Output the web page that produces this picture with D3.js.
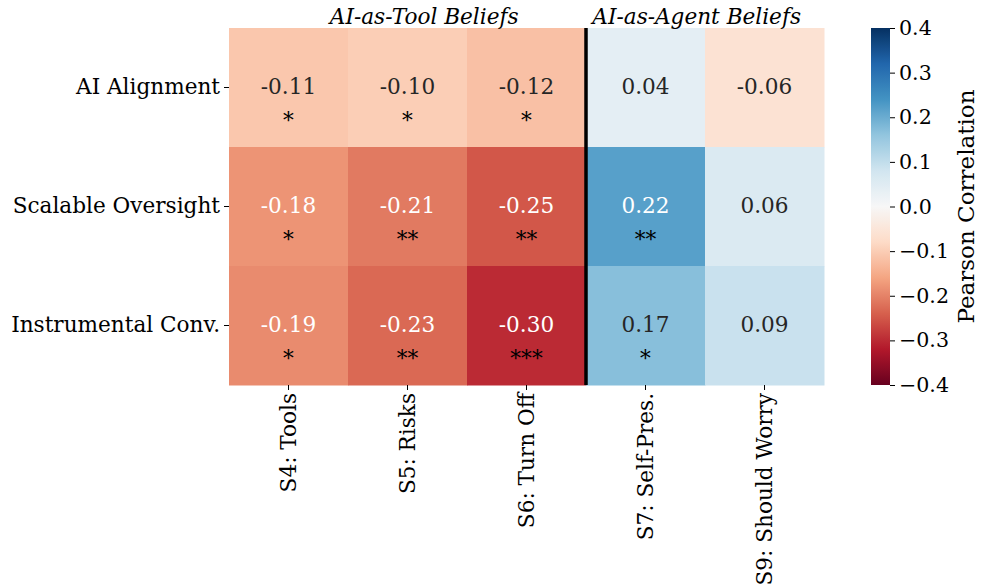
<!DOCTYPE html>
<html>
<head>
<meta charset="utf-8">
<script src="https://cdn.jsdelivr.net/npm/d3@7/dist/d3.min.js"></script>
<style>
  body { margin: 0; background: #fff; }
  svg text { font-family: "DejaVu Serif", serif; }
</style>
</head>
<body>
<svg id="chart" width="981" height="587"></svg>
<script>
var rows = ["AI Alignment", "Scalable Oversight", "Instrumental Conv."];
var cols = ["S4: Tools", "S5: Risks", "S6: Turn Off", "S7: Self-Pres.", "S9: Should Worry"];
var values = [
  [-0.11, -0.10, -0.12, 0.04, -0.06],
  [-0.18, -0.21, -0.25, 0.22, 0.06],
  [-0.19, -0.23, -0.30, 0.17, 0.09]
];
var stars = [
  ["*", "*", "*", "", ""],
  ["*", "**", "**", "**", ""],
  ["*", "**", "***", "*", ""]
];
var groups = [
  { name: "AI-as-Tool Beliefs", at: 1.64 },
  { name: "AI-as-Agent Beliefs", at: 3.93 }
];
var cbTicks = [-0.4, -0.3, -0.2, -0.1, 0.0, 0.1, 0.2, 0.3, 0.4];

// matplotlib RdBu stops
var rdbu = ["#67001f", "#b2182b", "#d6604d", "#f4a582", "#fddbc7", "#f7f7f7",
            "#d1e5f0", "#92c5de", "#4393c3", "#2166ac", "#053061"];
var color = d3.scaleLinear()
  .domain(d3.range(11).map(function(i) { return -0.4 + i * 0.08; }))
  .range(rdbu)
  .interpolate(d3.interpolateRgb)
  .clamp(true);

function lum(c) {
  c = d3.rgb(c);
  var f = function(v) { v /= 255; return v <= 0.03928 ? v / 12.92 : Math.pow((v + 0.055) / 1.055, 2.4); };
  return 0.2126 * f(c.r) + 0.7152 * f(c.g) + 0.0722 * f(c.b);
}

(function() {
  var svg = d3.select("#chart");
  var fs = "21.6px", fsTick = "20.6px", fsLabel = "23px";
  var mLeft = 229, mTop = 28, mRight = 824, mBottom = 385;

  var x = d3.scaleBand().domain(cols).range([mLeft, mRight]);
  var y = d3.scaleBand().domain(rows).range([mTop, mBottom]);
  var xl = d3.scaleLinear().domain([0, cols.length]).range([mLeft, mRight]);

  var cells = [];
  values.forEach(function(r, i) {
    r.forEach(function(v, j) {
      cells.push({ row: rows[i], col: cols[j], v: v, s: stars[i][j] });
    });
  });

  var g = svg.append("g");
  g.selectAll("rect")
    .data(cells)
    .enter()
    .append("rect")
    .attr("x", function(d) { return x(d.col); })
    .attr("y", function(d) { return y(d.row); })
    .attr("width", x.bandwidth() + 0.5)
    .attr("height", y.bandwidth() + 0.5)
    .attr("fill", function(d) { return color(d.v); });

  g.selectAll("text.val")
    .data(cells)
    .enter()
    .append("text")
    .attr("class", "val")
    .attr("x", function(d) { return x(d.col) + x.bandwidth() / 2; })
    .attr("y", function(d) { return y(d.row) + y.bandwidth() / 2 + 6.5; })
    .attr("text-anchor", "middle")
    .style("font-size", fs)
    .attr("fill", function(d) { return lum(color(d.v)) > 0.408 ? "#262626" : "#ffffff"; })
    .text(function(d) { return d.v.toFixed(2); });

  g.selectAll("text.star")
    .data(cells)
    .enter()
    .append("text")
    .attr("class", "star")
    .attr("x", function(d) { return x(d.col) + x.bandwidth() / 2; })
    .attr("y", function(d) { return y(d.row) + y.bandwidth() / 2 + 40; })
    .attr("text-anchor", "middle")
    .style("font-size", fs)
    .attr("fill", "#000")
    .text(function(d) { return d.s; });

  // separator between tool and agent groups
  svg.append("line")
    .attr("x1", xl(3)).attr("x2", xl(3))
    .attr("y1", mTop).attr("y2", mBottom)
    .attr("stroke", "#000")
    .attr("stroke-width", 3.5);

  // axes
  var ya = svg.append("g")
    .attr("transform", "translate(" + mLeft + ",0)")
    .call(d3.axisLeft(y).tickSize(5).tickPadding(4));
  ya.select(".domain").remove();
  ya.selectAll("text").style("font-size", fs).attr("fill", "#000");

  var xa = svg.append("g")
    .attr("transform", "translate(0," + mBottom + ")")
    .call(d3.axisBottom(x).tickSize(5).tickPadding(4));
  xa.select(".domain").remove();
  xa.selectAll("text")
    .style("font-size", fs)
    .attr("fill", "#000")
    .attr("text-anchor", "end")
    .attr("dy", "0.35em")
    .attr("transform", "translate(0,8) rotate(-90)")
    .attr("x", 0)
    .attr("y", 0);

  // group titles
  svg.selectAll("text.grp")
    .data(groups)
    .enter()
    .append("text")
    .attr("class", "grp")
    .attr("x", function(d) { return xl(d.at); })
    .attr("y", 24)
    .attr("text-anchor", "middle")
    .style("font-size", fs)
    .style("font-style", "italic")
    .text(function(d) { return d.name; });

  // colorbar
  var cbx = 871, cbw = 19;
  var cy = d3.scaleLinear().domain([-0.4, 0.4]).range([mBottom, mTop]);
  var grad = svg.append("defs").append("linearGradient")
    .attr("id", "cbgrad")
    .attr("x1", "0").attr("y1", "1").attr("x2", "0").attr("y2", "0");
  grad.selectAll("stop")
    .data(d3.range(0, 1.0001, 0.02))
    .enter()
    .append("stop")
    .attr("offset", function(d) { return d; })
    .attr("stop-color", function(d) { return color(-0.4 + d * 0.8); });
  svg.append("rect")
    .attr("x", cbx).attr("y", mTop)
    .attr("width", cbw).attr("height", mBottom - mTop)
    .attr("fill", "url(#cbgrad)");

  var ca = svg.append("g")
    .attr("transform", "translate(" + (cbx + cbw) + ",0)")
    .call(d3.axisRight(cy)
      .tickValues(cbTicks)
      .tickSize(5)
      .tickPadding(4)
      .tickFormat(function(d) { return d3.format(".1f")(d).replace("-", "\u2212"); }));
  ca.select(".domain").remove();
  ca.selectAll("text").style("font-size", fsTick).attr("fill", "#000");

  svg.append("text")
    .attr("transform", "translate(966," + (mTop + mBottom) / 2 + ") rotate(-90)")
    .attr("text-anchor", "middle")
    .attr("dominant-baseline", "central")
    .style("font-size", fsLabel)
    .text("Pearson Correlation");
})();
</script>
</body>
</html>
